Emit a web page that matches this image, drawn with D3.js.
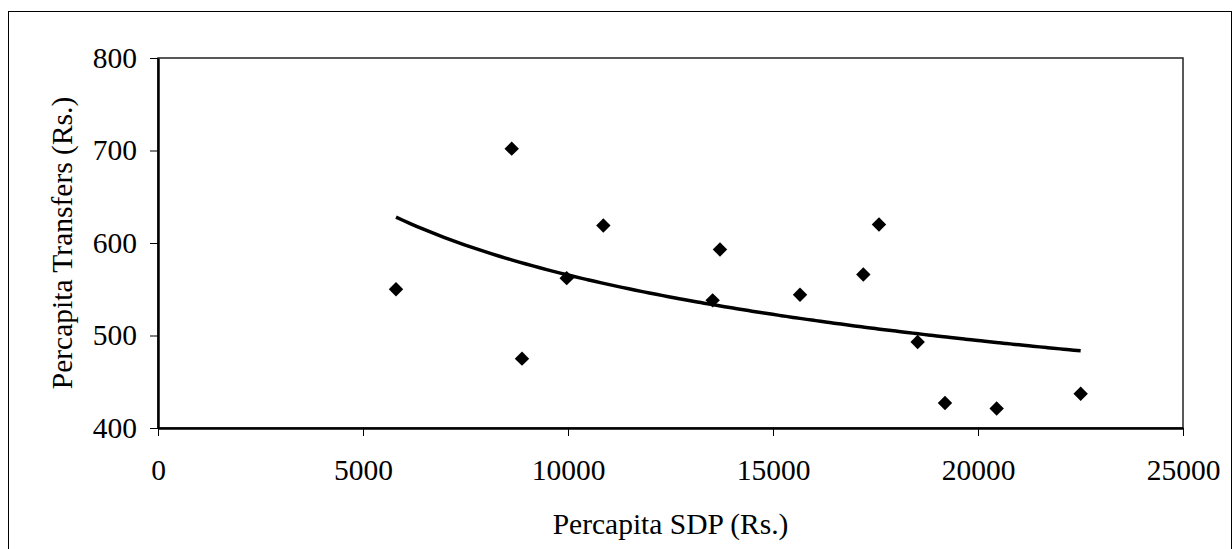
<!DOCTYPE html>
<html>
<head>
<meta charset="utf-8">
<script src="https://cdn.jsdelivr.net/npm/d3@7"></script>
<style>
  html, body { margin: 0; padding: 0; background: #fff; }
  svg { display: block; }
  svg text { font-family: "Liberation Serif", "Times New Roman", Times, serif; }
</style>
</head>
<body>
<svg id="chart"></svg>
<script>
// per capita SDP (Rs.) and per capita transfers (Rs.)
const sdp = [5805, 8627, 8878, 9968, 10862, 13528, 13707, 15659, 17203, 17585, 18528, 19195, 20455, 22504]
const transfers = [550, 702, 475, 562, 619, 538, 593, 544, 566, 620, 493, 427, 421, 437]
const xTicks = [0, 5000, 10000, 15000, 20000, 25000]
const yTicks = [400, 500, 600, 700, 800]

const width = 1232
const height = 549
const margin = { top: 58, right: 49, bottom: 121, left: 158 }
const fontSize = 29.5

const svg = d3.select('#chart').attr('width', width).attr('height', height)

// outer chart frame
svg.append('rect')
  .attr('x', 8.5).attr('y', 11.5)
  .attr('width', width - 9).attr('height', height)
  .attr('fill', 'none').attr('stroke', '#000').attr('stroke-width', 1)

const x = d3.scaleLinear()
  .domain([0, 25000])
  .range([margin.left, width - margin.right])

const y = d3.scaleLinear()
  .domain([400, 800])
  .range([height - margin.bottom, margin.top])

// plot area border (top/right)
svg.append('rect')
  .attr('x', x(0)).attr('y', y(800))
  .attr('width', x(25000) - x(0)).attr('height', y(400) - y(800))
  .attr('fill', 'none').attr('stroke', '#222').attr('stroke-width', 1.5)

const xAxis = g =>
  g.attr('transform', `translate(0,${y(400)})`)
    .call(d3.axisBottom(x).tickValues(xTicks).tickFormat(d3.format('d')).tickSize(8).tickPadding(23).tickSizeOuter(0))
    .call(g => g.select('.domain').attr('stroke-width', 2.5))
    .call(g => g.selectAll('.tick line').attr('stroke-width', 1))

const yAxis = g =>
  g.attr('transform', `translate(${x(0)},0)`)
    .call(d3.axisLeft(y).tickValues(yTicks).tickSize(8).tickPadding(13).tickSizeOuter(0))
    .call(g => g.select('.domain').attr('stroke-width', 2.5))
    .call(g => g.selectAll('.tick line').attr('stroke-width', 1))

svg.append('g').call(xAxis)
svg.append('g').call(yAxis)

svg.selectAll('g').attr('font-family', null)
svg.selectAll('.tick text')
  .attr('font-size', fontSize)
  .attr('fill', '#000')

// power trendline, least squares in log space (as a spreadsheet would do it)
const pts = sdp.map((d, i) => ({ x: d, y: transfers[i] }))
const lx = pts.map(d => Math.log(d.x))
const ly = pts.map(d => Math.log(d.y))
const mx = d3.mean(lx)
const my = d3.mean(ly)
const b = d3.sum(lx, (v, i) => (v - mx) * (ly[i] - my)) / d3.sum(lx, v => (v - mx) * (v - mx))
const a = Math.exp(my - b * mx)
const [x0, x1] = d3.extent(sdp)
const trend = d3.range(0, 101).map(k => {
  const xv = x0 + (x1 - x0) * k / 100
  return { x: xv, y: a * Math.pow(xv, b) }
})

const line = d3.line()
  .x(d => x(d.x))
  .y(d => y(d.y))
  .curve(d3.curveMonotoneX)

svg.append('path')
  .attr('d', line(trend))
  .attr('fill', 'none')
  .attr('stroke', '#000')
  .attr('stroke-width', 3.5)
  .attr('stroke-linejoin', 'round')

const diamond = d3.symbol(d3.symbolSquare, 104)

svg.append('g')
  .selectAll('path')
  .data(pts)
  .join('path')
  .attr('d', diamond)
  .attr('transform', d => `translate(${x(d.x)},${y(d.y)}) rotate(45)`)
  .attr('fill', '#000')

// axis titles
svg.append('text')
  .attr('x', (x(0) + x(25000)) / 2)
  .attr('y', 534)
  .attr('text-anchor', 'middle')
  .attr('font-size', fontSize)
  .text('Percapita SDP (Rs.)')

svg.append('text')
  .attr('transform', `translate(72,${(y(400) + y(800)) / 2}) rotate(-90)`)
  .attr('text-anchor', 'middle')
  .attr('font-size', fontSize)
  .text('Percapita Transfers (Rs.)')
</script>
</body>
</html>
